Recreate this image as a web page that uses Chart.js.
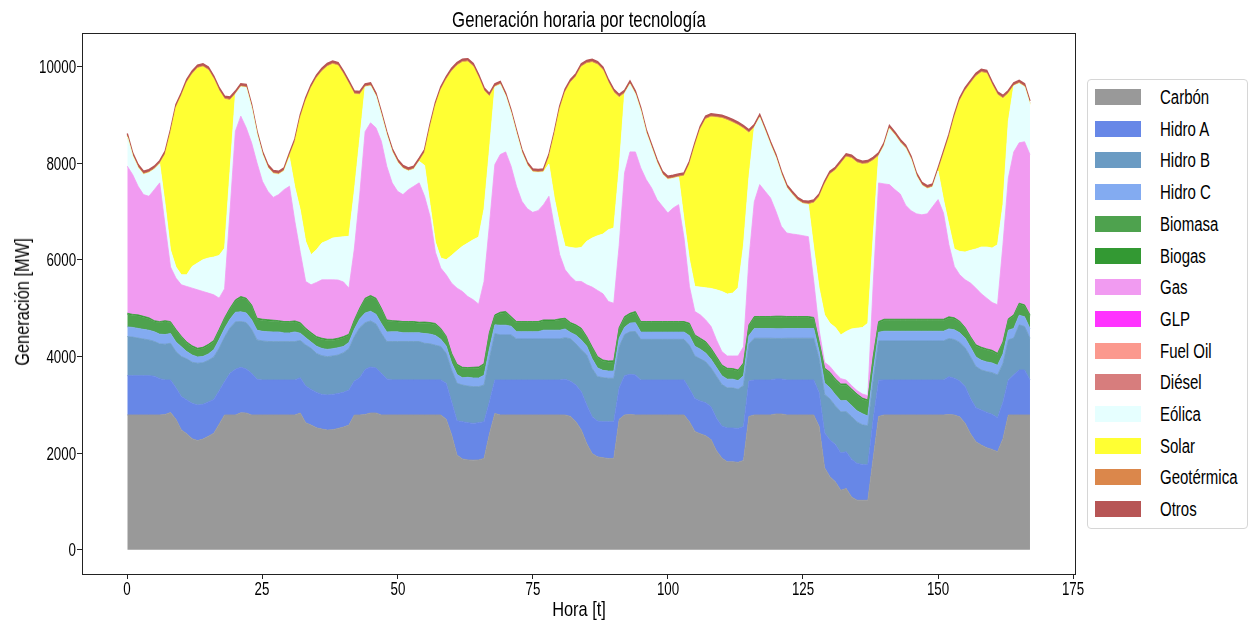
<!DOCTYPE html>
<html><head><meta charset="utf-8">
<script src="https://cdn.jsdelivr.net/npm/chart.js@4.4.1/dist/chart.umd.min.js"></script>
<style>
html,body{margin:0;padding:0;background:#fff;width:1249px;height:623px;overflow:hidden;}
#wrap{position:relative;width:1249px;height:623px;font-family:'Liberation Sans',Arial,sans-serif;color:#000;}
canvas{position:absolute;left:0;top:0;}
.t{position:absolute;white-space:nowrap;}
#title{left:579px;top:8px;font-size:22px;line-height:24px;transform:translateX(-50%) scaleX(0.76);}
#legend{position:absolute;left:1087px;top:79px;width:161px;height:450px;border:1px solid #d6d6d6;border-radius:4px;box-sizing:border-box;background:#fff;}
.item{position:absolute;left:7px;height:16px;width:150px;}
.sw{position:absolute;left:0;top:0;width:46px;height:16px;}
.lb{position:absolute;left:65px;top:-2px;white-space:nowrap;font-size:20px;line-height:20px;transform:scaleX(0.75);transform-origin:0 50%;}
.xt{font-size:18px;line-height:18px;top:580px;transform:translateX(-50%) scaleX(0.74);}
.yt{font-size:18px;line-height:18px;transform:translateY(-50%) scaleX(0.74);transform-origin:100% 50%;}
#xtitle{left:579px;top:598px;font-size:21px;line-height:22px;transform:translateX(-50%) scaleX(0.78);}
#ytitle{left:22px;top:302px;font-size:21px;line-height:22px;transform:translate(-50%,-50%) rotate(-90deg) scaleX(0.78);}
</style></head>
<body><div id="wrap"><canvas id="c" width="1249" height="623"></canvas>
<div id="title" class="t">Generación horaria por tecnología</div>
<div id="xtitle" class="t">Hora [t]</div>
<div id="ytitle" class="t">Generación [MW]</div>
<div id="legend"></div></div>
<script>
const names = ['Carbón','Hidro A','Hidro B','Hidro C','Biomasa','Biogas','Gas','GLP','Fuel Oil','Diésel','Eólica','Solar','Geotérmica','Otros'];
const xTicks = [0,25,50,75,100,125,150,175];
const yTicks = [0,2000,4000,6000,8000,10000];

const carbon = [
2790,2790,2790,2790,2790,2790,2790,2800,2840,2700,2480,2400,2300,2260,2290,2350,2410,2600,2790,2790,2790,2834,2830,2790,
2790,2790,2790,2790,2790,2790,2790,2790,2830,2630,2580,2525,2497,2477,2484,2511,2539,2580,2788,2788,2800,2830,2830,2790,
2790,2790,2790,2790,2790,2790,2790,2790,2790,2790,2790,2700,2380,1960,1880,1860,1855,1860,1890,2400,2820,2790,2790,2790,
2790,2790,2790,2790,2790,2790,2790,2790,2790,2788,2760,2650,2480,2200,1990,1924,1904,1890,1890,2700,2790,2800,2790,2790,
2790,2790,2790,2790,2790,2790,2790,2790,2650,2450,2400,2360,2280,2050,1900,1820,1820,1810,1850,2760,2790,2790,2790,2790,
2810,2810,2790,2790,2790,2790,2790,2790,2550,1700,1510,1406,1234,1268,1095,1026,1026,1026,1900,2760,2790,2790,2790,2790,
2790,2790,2790,2790,2790,2790,2790,2790,2800,2790,2750,2620,2400,2235,2166,2111,2077,2028,2300,2790,2790,2790,2790,2790];

const hidroA = [
813,813,813,813,813,800,750,713,673,650,690,700,730,735,720,710,700,690,690,860,944,942,910,860,
737,723,723,723,723,723,723,723,730,758,738,731,718,724,731,724,718,724,704,773,932,952,932,860,
745,725,725,725,725,725,725,725,725,725,725,744,684,710,770,770,760,770,760,664,693,723,723,723,
723,723,723,723,723,723,723,723,723,740,725,759,790,795,760,739,746,760,760,650,813,830,827,723,
723,723,723,723,723,723,723,723,680,680,680,680,680,670,660,700,700,700,700,730,723,723,723,723,
723,723,723,723,723,723,723,723,700,720,760,770,770,760,780,760,740,730,800,750,723,723,723,723,
723,723,723,723,723,723,723,723,780,760,740,760,730,705,725,732,725,704,750,723,830,930,930,723];

const hidroB = [
808,797,777,757,739,720,720,740,760,750,830,850,850,865,860,860,880,880,920,940,980,946,960,910,
815,807,797,794,794,794,794,794,770,850,850,807,800,795,795,795,821,856,918,1035,966,952,911,830,
773,794,794,794,794,794,794,757,747,717,690,620,656,774,759,758,760,745,759,900,960,933,933,933,
850,850,850,850,850,850,850,850,850,860,880,850,870,1036,1000,919,912,898,898,850,850,880,900,840,
840,840,840,840,840,840,840,840,900,880,870,850,800,870,860,830,830,810,850,760,864,864,864,864,
840,840,864,864,864,864,864,864,700,800,850,800,850,830,880,860,820,810,800,810,808,808,808,808,
808,808,808,808,808,808,808,808,790,800,800,800,860,850,830,843,863,885,800,830,760,933,900,864];

const hidroC = [
200,200,200,200,200,200,200,200,200,200,200,150,150,130,130,130,150,180,180,180,200,200,200,200,
200,200,200,200,200,180,180,200,150,150,130,150,150,150,150,150,130,130,150,180,200,200,200,200,
200,200,200,180,180,180,180,200,200,200,150,150,150,180,150,180,180,180,200,200,180,200,200,180,
150,150,150,150,150,180,180,180,180,180,130,180,200,180,200,180,150,150,150,180,150,180,180,150,
150,150,150,150,150,150,150,150,200,200,200,180,180,180,180,180,180,180,200,180,200,200,200,200,
200,200,200,200,200,200,200,200,150,230,230,230,230,230,230,230,230,200,200,180,200,200,200,200,
200,200,200,200,200,200,200,200,200,200,200,200,200,200,200,200,200,200,200,200,200,200,200,200];

const biomasa = [
258,245,255,245,233,205,235,262,222,235,195,175,165,155,165,175,165,185,195,205,231,293,281,282,
224,225,225,218,208,210,210,203,195,171,171,173,187,185,171,172,178,145,171,199,283,302,308,295,
223,206,201,208,208,208,194,215,215,225,200,181,170,189,192,176,196,203,216,311,182,244,258,175,
184,184,184,184,184,188,188,188,209,198,180,189,219,175,225,210,190,184,187,195,198,179,207,194,
194,194,194,194,194,194,194,194,232,211,202,212,205,202,199,200,195,195,240,198,224,224,224,224,
235,235,224,224,224,224,224,205,175,285,297,303,322,318,317,322,299,308,275,197,224,224,224,224,
224,224,224,224,224,224,224,224,225,225,215,195,195,225,245,245,238,223,225,212,255,224,222,258];

const biogas = [
25,25,25,25,25,25,25,25,25,25,25,25,25,25,25,25,25,25,25,25,25,25,25,25,
25,25,25,25,25,25,25,25,25,25,25,25,25,25,25,25,25,25,25,25,25,25,25,25,
25,25,25,25,25,25,25,25,25,25,25,25,25,25,25,25,25,25,25,25,25,25,25,25,
25,25,25,25,25,25,25,25,25,25,25,25,25,25,25,25,25,25,25,25,25,25,25,25,
25,25,25,25,25,25,25,25,25,25,25,25,25,25,25,25,25,25,25,25,25,25,25,25,
25,25,25,25,25,25,25,25,25,25,25,25,25,25,25,25,25,25,25,25,25,25,25,25,
25,25,25,25,25,25,25,25,25,25,25,25,25,25,25,25,25,25,25,25,25,25,25,25];

const gas = [
3041,2890,2660,2517,2513,2710,2870,1960,1130,1060,1062,1147,1193,1208,1154,1060,945,646,600,2000,3490,3730,3523,3351,
3212,2853,2656,2540,2607,2728,2798,2058,1455,966,988,1119,1208,1229,1229,1203,1129,953,1465,2340,3444,3571,3523,3452,
3179,2850,2681,2625,2728,2798,2882,2601,2198,1473,1247,1269,1451,1575,1568,1471,1396,1299,1700,2225,3109,3261,3301,3109,
2798,2488,2335,2259,2294,2384,2557,1934,1327,1002,955,898,967,1071,1234,1368,1369,1230,1190,1700,2974,3337,3301,3178,
2936,2763,2522,2384,2245,2349,2418,1727,760,483,483,449,448,345,276,255,260,290,335,1347,2374,2728,2590,2452,
2169,1858,1727,1706,1692,1671,1651,743,240,119,120,120,110,80,70,70,83,89,1500,2867,2799,2784,2681,2591,
2357,2246,2180,2160,2180,2330,2474,2197,1491,1062,959,986,1107,1173,1105,1050,988,1003,2011,2912,3370,3316,3373,3316];

const glp = [
0,0,0,0,0,0,0,0,0,0,0,0,0,0,0,0,0,0,0,0,0,0,0,0,
0,0,0,0,0,0,0,0,0,0,0,0,0,0,0,0,0,0,0,0,0,0,0,0,
0,0,0,0,0,0,0,0,0,0,0,0,0,0,0,0,0,0,0,0,0,0,0,0,
0,0,0,0,0,0,0,0,0,0,0,0,0,0,0,0,0,0,0,0,0,0,0,0,
0,0,0,0,0,0,0,0,0,0,0,0,0,0,0,0,0,0,0,0,0,0,0,0,
0,0,0,0,0,0,0,0,0,0,0,0,0,0,0,0,0,0,0,0,0,0,0,0,
0,0,0,0,0,0,0,0,0,0,0,0,0,0,0,0,0,0,0,0,0,0,0,0];
const fuelOil = glp.slice();
const diesel = glp.slice();

const eolica = [
610,385,385,418,487,420,395,450,350,230,207,242,449,553,656,725,780,884,840,830,764,606,833,729,
592,557,488,490,418,385,595,707,875,830,622,677,760,809,864,883,937,1071,1201,1150,925,763,656,543,
650,645,599,538,385,350,445,637,250,210,208,311,574,774,933,1105,1242,1388,1500,1555,1606,1449,1155,1100,
1095,1005,898,834,789,675,667,588,621,484,600,689,704,898,1015,1132,1235,1485,1556,1600,1638,1400,1194,1178,
971,833,764,660,695,612,571,381,560,518,574,664,788,1036,1244,1280,1300,1410,2100,1700,1533,1386,1248,1096,
1109,1075,936,819,709,661,667,692,873,981,895,943,905,1004,1173,1291,1374,1499,1000,556,784,1158,1129,1061,
1178,1061,781,608,519,403,591,277,414,360,484,573,677,809,967,1057,1126,1243,829,1175,1367,1227,1136,1041];

const solar = [
0,0,0,0,0,0,0,1030,2430,3297,3701,3976,3976,4031,3990,3886,3680,3403,3080,1470,0,0,0,0,
0,0,0,0,0,0,30,935,1905,2905,3451,3548,3550,3601,3596,3552,3358,3151,2003,925,0,0,0,0,
0,0,0,0,0,0,0,265,1585,2825,3480,3725,3805,3828,3808,3750,3581,3295,2445,1095,0,0,0,0,
0,0,0,0,0,0,135,1307,2390,3188,3410,3545,3735,3679,3631,3535,3390,3043,2803,1455,0,0,0,0,
0,0,0,0,0,0,0,901,1966,2906,3264,3485,3547,3562,3581,3595,3526,3360,2412,922,0,0,0,0,
0,0,0,0,0,0,0,930,1883,2698,3079,3252,3541,3610,3527,3424,3376,3300,1555,0,0,0,0,0,
0,0,0,0,0,0,0,936,1801,2718,3113,3334,3451,3568,3610,3589,3375,3099,2194,571,0,0,0,0];

const geotermica = [
20,20,20,20,20,20,20,20,20,20,20,20,20,20,20,20,20,20,20,20,20,20,20,20,
20,20,20,20,20,20,20,20,20,20,20,20,20,20,20,20,20,20,20,20,20,20,20,20,
20,20,20,20,20,20,20,20,20,20,20,20,20,20,20,20,20,20,20,20,20,20,20,20,
20,20,20,20,20,20,20,20,20,20,20,20,20,20,20,20,20,20,20,20,20,20,20,20,
20,20,20,20,20,20,20,20,20,20,20,20,20,20,20,20,20,20,20,20,20,20,20,20,
20,20,20,20,20,20,20,20,20,20,20,20,20,20,20,20,20,20,20,20,20,20,20,20,
20,20,20,20,20,20,20,20,20,20,20,20,20,20,20,20,20,20,20,20,20,20,20,20];

const otros = [
45,45,45,45,45,45,45,45,45,45,45,45,45,45,45,45,45,45,45,45,45,45,45,45,
45,45,45,45,45,45,45,45,45,45,45,45,45,45,45,45,45,45,45,45,45,45,45,45,
45,45,45,45,45,45,45,45,45,45,45,45,45,45,45,45,45,45,45,45,45,45,45,45,
45,45,45,45,45,45,45,45,45,45,45,45,45,45,45,45,45,45,45,45,45,45,45,45,
45,45,45,45,45,45,45,45,45,45,45,45,45,45,45,45,45,45,45,45,45,45,45,45,
45,45,45,45,45,45,45,45,45,45,45,45,45,45,45,45,45,45,45,45,45,45,45,45,
45,45,45,45,45,45,45,45,45,45,45,45,45,45,45,45,45,45,45,45,45,45,45,45];

const hours = carbon.map((_, i) => i);

const colors = ['#999999','#6787e7','#6b9bc3','#83abf1','#4ea24e','#339933','#f19bf1','#ff33ff','#fb998e','#d77d7d','#e6ffff','#ffff33','#db874b','#b75555'];
const series = [carbon,hidroA,hidroB,hidroC,biomasa,biogas,gas,glp,fuelOil,diesel,eolica,solar,geotermica,otros];

const wrap = document.getElementById('wrap');
const leg = document.getElementById('legend');
names.forEach((n, i) => {
  const it = document.createElement('div');
  it.className = 'item';
  it.style.top = (9 + i * 31.7) + 'px';
  it.innerHTML = '<div class="sw" style="background:' + colors[i] + '"></div><div class="lb">' + n + '</div>';
  leg.appendChild(it);
});

const datasets = series.map((s, i) => ({
  label: names[i],
  data: s.map((v, j) => ({x: hours[j], y: v})),
  backgroundColor: colors[i],
  borderColor: colors[i],
  borderWidth: (i >= 7 && i <= 9) ? 0 : (i === 13 ? 1.4 : 0.8),
  fill: i === 0 ? 'origin' : '-1',
  pointRadius: 0,
  pointHoverRadius: 0,
  tension: 0
}));

const frame = {
  id: 'frame',
  afterDraw(chart) {
    const {ctx, chartArea: a} = chart;
    ctx.save();
    ctx.strokeStyle = '#222';
    ctx.lineWidth = 1;
    ctx.strokeRect(Math.round(a.left) + 0.5, Math.round(a.top) + 0.5, Math.round(a.right - a.left), Math.round(a.bottom - a.top));
    ctx.restore();
  }
};

const chart = new Chart(document.getElementById('c'), {
  type: 'line',
  data: {datasets},
  options: {
    responsive: false,
    animation: false,
    devicePixelRatio: 1,
    layout: {padding: {left: 0, top: 33, right: 174, bottom: 0}},
    plugins: {legend: {display: false}, tooltip: {enabled: false}, title: {display: false}},
    scales: {
      x: {
        type: 'linear', min: -8.38, max: 175.33,
        afterBuildTicks: s => { s.ticks = xTicks.map(v => ({value: v})); },
        afterFit: s => { s.height = 49; },
        grid: {display: true, drawOnChartArea: false, drawTicks: true, tickLength: 5, color: '#222'},
        border: {display: true, color: '#222'},
        ticks: {display: false},
        title: {display: false}
      },
      y: {
        type: 'linear', stacked: true, min: -500, max: 10690,
        afterBuildTicks: s => { s.ticks = yTicks.map(v => ({value: v})); },
        afterFit: s => { s.width = 82; },
        grid: {display: true, drawOnChartArea: false, drawTicks: true, tickLength: 5, color: '#222'},
        border: {display: true, color: '#222'},
        ticks: {display: false},
        title: {display: false}
      }
    }
  },
  plugins: [frame]
});

// tick labels as text, positioned by the chart's own scales
const sx = chart.scales.x, sy = chart.scales.y;
xTicks.forEach(v => {
  const d = document.createElement('div');
  d.className = 't xt';
  d.style.left = sx.getPixelForValue(v) + 'px';
  d.textContent = String(v);
  wrap.appendChild(d);
});
yTicks.forEach(v => {
  const d = document.createElement('div');
  d.className = 't yt';
  d.style.right = (1249 - 76) + 'px';
  d.style.top = (sy.getPixelForValue(v) + 0.5) + 'px';
  d.textContent = String(v);
  wrap.appendChild(d);
});
</script></body></html>
